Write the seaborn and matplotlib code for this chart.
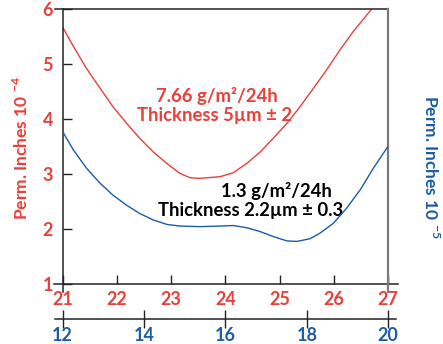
import matplotlib.pyplot as plt
import seaborn as sns

sns.set_style('white')
plt.rcParams['font.family'] = ['Lato', 'DejaVu Sans']
plt.rcParams['font.weight'] = 'bold'
plt.rcParams['axes.labelweight'] = 'bold'
plt.rcParams['mathtext.fontset'] = 'custom'
plt.rcParams['mathtext.rm'] = 'Lato:bold'
plt.rcParams['mathtext.bf'] = 'Lato:bold'

RED = '#e8403a'
BLUE = '#1c5ca8'

# red curve: bottom axis (21-27) vs left axis (10^-4)
red_x = [21.0, 21.2, 21.44, 21.69, 21.93, 22.18, 22.42, 22.67, 22.92, 23.16,
         23.35, 23.53, 23.9, 24.14, 24.39, 24.64, 24.88, 25.13, 25.37, 25.62,
         25.86, 26.11, 26.35, 26.69]
red_y = [5.67, 5.32, 4.92, 4.56, 4.22, 3.92, 3.65, 3.40, 3.19, 3.01,
         2.93, 2.92, 2.95, 3.02, 3.19, 3.40, 3.65, 3.92, 4.22, 4.56,
         4.89, 5.26, 5.59, 6.0]

# blue curve: lower axis (12-20) vs right axis (10^-5)
blue_x = [12.0, 12.26, 12.59, 12.92, 13.24, 13.57, 13.89, 14.23, 14.56, 14.88,
          15.37, 15.87, 16.19, 16.52, 16.85, 17.17, 17.51, 17.75, 18.08, 18.32,
          18.65, 18.97, 19.31, 19.63, 20.0]
blue_y = [5.77, 5.44, 5.10, 4.83, 4.61, 4.43, 4.28, 4.16, 4.08, 4.05,
          4.04, 4.05, 4.06, 4.02, 3.95, 3.86, 3.78, 3.77, 3.82, 3.92,
          4.10, 4.37, 4.71, 5.10, 5.51]

left_ticks = [1, 2, 3, 4, 5, 6]
right_ticks = [3, 4, 5, 6, 7]
bottom_ticks = [21, 22, 23, 24, 25, 26, 27]
lower_ticks = [12, 14, 16, 18, 20]

fig = plt.figure(figsize=(4.43, 3.44), dpi=100)
ax = fig.add_axes([0.1415, 0.1753, 0.735, 0.7977])
ax2 = ax.twinx()
ax3 = ax2.twiny()

sns.lineplot(x=red_x, y=red_y, ax=ax, color=RED, lw=1.0)
sns.lineplot(x=blue_x, y=blue_y, ax=ax3, color=BLUE, lw=1.0)

ax.set_xlim(21, 27)
ax.set_ylim(1, 6)
ax2.set_ylim(3, 8)
ax3.set_xlim(12, 20)

# frame
for s in ['left', 'bottom', 'top']:
    ax.spines[s].set_color('#222222')
    ax.spines[s].set_linewidth(1.1)
ax.spines['right'].set_visible(False)
ax.spines['left'].set_bounds(0.85, 6)
ax.spines['bottom'].set_bounds(20.84, 27.18)
ax.spines['top'].set_bounds(20.85, 27)

for s in ['left', 'bottom', 'top']:
    ax2.spines[s].set_visible(False)
ax2.spines['right'].set_color('#7a7a7a')
ax2.spines['right'].set_linewidth(1.6)
ax2.spines['right'].set_bounds(2.85, 8)

for s in ['left', 'right', 'top']:
    ax3.spines[s].set_visible(False)
ax3.spines['bottom'].set_visible(True)
ax3.spines['bottom'].set_color('#222222')
ax3.spines['bottom'].set_linewidth(1.1)
ax3.spines['bottom'].set_position(('outward', 25.4))
ax3.spines['bottom'].set_bounds(11.8, 20.2)
ax3.xaxis.set_ticks_position('bottom')
ax3.xaxis.set_label_position('bottom')

# ticks
ax.set_yticks(left_ticks)
ax.set_xticks(bottom_ticks)
ax2.set_yticks(right_ticks)
ax3.set_xticks(lower_ticks)
ax3.set_yticks([])

ax.tick_params(axis='y', direction='in', length=6.5, width=1, color='#222222',
               labelcolor=RED, labelsize=13, pad=7, left=True)
ax.tick_params(axis='x', direction='in', length=6.5, width=1, color='#222222',
               labelcolor=RED, labelsize=13, pad=5, bottom=True)
ax2.tick_params(axis='y', direction='inout', length=9.4, width=1, color='#222222',
                labelcolor=BLUE, labelsize=13, pad=3, right=True)
ax3.tick_params(axis='x', direction='inout', length=13, width=1, color='#222222',
                labelcolor=BLUE, labelsize=13, pad=-1, bottom=True, top=False)

ax.set_xlabel('')
ax3.set_xlabel('')
ax.set_ylabel(r'Perm. Inches 10 $^{-4}$', color=RED, fontsize=12.5)
ax.yaxis.set_label_coords(-0.097, 0.495)
ax2.set_ylabel(r'Perm. Inches 10 $^{-5}$', color=BLUE, fontsize=12.5,
               rotation=-90, va='bottom')
ax2.yaxis.set_label_coords(1.1, 0.425)

# annotations
ax.text(23.85, 4.42, '7.66 g/m²/24h', color=RED, fontsize=13.3,
        ha='center', va='center')
ax.text(23.79, 4.07, 'Thickness 5µm ± 2', color=RED, fontsize=13.3,
        ha='center', va='center')
ax.text(24.93, 2.69, '1.3 g/m²/24h', color='black', fontsize=13.3,
        ha='center', va='center')
ax.text(24.47, 2.34, 'Thickness 2.2µm ± 0.3', color='black', fontsize=13.3,
        ha='center', va='center')

fig.savefig('out.png', dpi=100)
